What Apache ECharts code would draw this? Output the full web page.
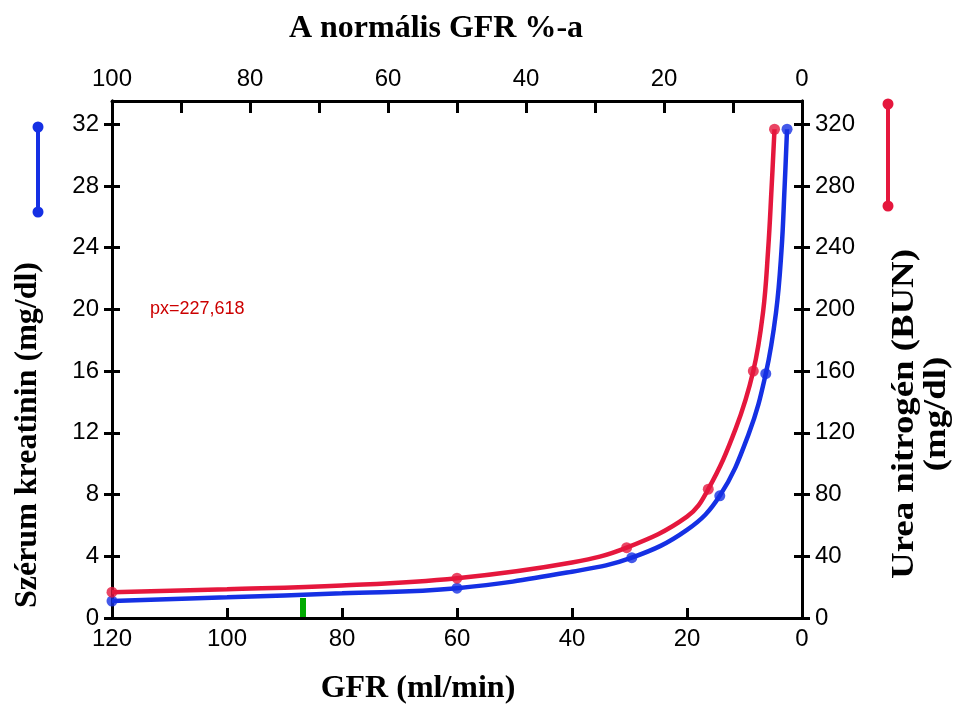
<!DOCTYPE html>
<html>
<head>
<meta charset="utf-8">
<script src="https://cdn.jsdelivr.net/npm/echarts@6/dist/echarts.min.js"></script>
<style>
  html, body { margin: 0; padding: 0; background: #fff; }
  #chart { width: 956px; height: 704px; }
</style>
</head>
<body>
<div id="chart"></div>
<script>
// GFR (ml/min) along the curves, with serum creatinine (mg/dl)
const creatGfr = [120, 100, 80, 60, 40, 29.6, 20, 14.3, 9.3, 6.3, 4.52, 3.57, 3.04, 2.6];
const creatVal = [1.1, 1.34, 1.6, 1.93, 3.0, 3.91, 5.71, 7.92, 11.9, 15.83, 19.8, 23.8, 27.8, 31.67];
// GFR (ml/min) along the curves, with blood urea nitrogen (mg/dl)
const bunGfr = [120, 100, 80, 60, 40, 30.5, 20, 16.3, 11.5, 8.47, 6.78, 5.9, 5.3, 4.78];
const bunVal = [16.7, 18.6, 21, 25.8, 36.0, 45.6, 65.7, 83.5, 123, 160, 198, 238, 278, 316.7];
// Measured points drawn as dots (indices into the arrays above)
const creatDots = [0, 3, 5, 7, 9, 13];
const bunDots = [0, 3, 5, 7, 9, 13];

// Tick positions
const gfrTicks = [0, 20, 40, 60, 80, 100, 120];
const pctTicks = [0, 10, 20, 30, 40, 50, 60, 70, 80, 90, 100];
const pctLabels = [0, 20, 40, 60, 80, 100];
const creatTicks = [0, 4, 8, 12, 16, 20, 24, 28, 32];
const bunTicks = [0, 40, 80, 120, 160, 200, 240, 280, 320];

const BLUE = '#1530e4';
const RED = '#e5173d';
const INK = '#000';
const SANS = 'Liberation Sans, Arial, sans-serif';
const SERIF = 'Liberation Serif, Times New Roman, serif';

const pair = (xs, ys) => xs.map((x, i) => [x, ys[i]]);
const pick = (xs, ys, idx) => idx.map(i => [xs[i], ys[i]]);

const axisLine = (show) => ({ show: show, onZero: false, lineStyle: { color: INK, width: 3 } });
const tickStyle = () => ({ color: INK, width: 3 });
const labelStyle = (extra) => Object.assign({ color: INK, fontFamily: SANS, fontSize: 24 }, extra);

function yAxis(pos, max, ticks, inside, labels) {
  return {
    type: 'value', position: pos, min: 0, max: max, interval: ticks[1] - ticks[0],
    axisLine: axisLine(true),
    axisTick: { show: true, inside: inside, length: 8, lineStyle: tickStyle(), customValues: ticks },
    axisLabel: labels ? labelStyle({ margin: 13, customValues: ticks }) : { show: false },
    splitLine: { show: false }
  };
}

const chart = echarts.init(document.getElementById('chart'), null, { renderer: 'canvas' });

chart.setOption({
  animation: false,
  backgroundColor: '#fff',
  grid: { left: 112, right: 154, top: 101, bottom: 86, containLabel: false, outerBoundsMode: 'none' },
  xAxis: [
    {
      type: 'value', position: 'bottom', min: 0, max: 120, interval: 20, inverse: true,
      axisLine: axisLine(true),
      axisTick: { show: true, inside: true, length: 10, lineStyle: tickStyle(), customValues: gfrTicks },
      axisLabel: labelStyle({ margin: 9, customValues: gfrTicks }),
      splitLine: { show: false }
    },
    {
      type: 'value', position: 'top', min: 0, max: 100, interval: 10, inverse: true,
      axisLine: axisLine(true),
      axisTick: { show: true, inside: true, length: 12, lineStyle: tickStyle(), customValues: pctTicks },
      axisLabel: labelStyle({ margin: 10, customValues: pctLabels }),
      splitLine: { show: false }
    }
  ],
  yAxis: [
    yAxis('left', 33.5, creatTicks, false, true),
    yAxis('left', 33.5, creatTicks, true, false),
    yAxis('right', 335, bunTicks, false, true),
    yAxis('right', 335, bunTicks, true, false)
  ],
  series: [
    {
      type: 'line', name: 'Szérum kreatinin', xAxisIndex: 0, yAxisIndex: 0,
      data: pair(creatGfr, creatVal), smooth: 0.4, showSymbol: false,
      lineStyle: { color: BLUE, width: 4.5 }, z: 3
    },
    {
      type: 'scatter', xAxisIndex: 0, yAxisIndex: 0,
      data: pick(creatGfr, creatVal, creatDots), symbolSize: 11,
      itemStyle: { color: BLUE }, z: 4
    },
    {
      type: 'line', name: 'Urea nitrogén', xAxisIndex: 0, yAxisIndex: 2,
      data: pair(bunGfr, bunVal), smooth: 0.4, showSymbol: false,
      lineStyle: { color: RED, width: 4.5 }, z: 3
    },
    {
      type: 'scatter', xAxisIndex: 0, yAxisIndex: 2,
      data: pick(bunGfr, bunVal, bunDots), symbolSize: 11,
      itemStyle: { color: RED }, z: 4
    }
  ],
  graphic: [
    { type: 'text', x: 436, y: 29, style: { text: 'A normális GFR %-a', font: 'bold 32px ' + SERIF, fill: INK, align: 'center', verticalAlign: 'middle' } },
    { type: 'text', x: 418, y: 689, style: { text: 'GFR (ml/min)', font: 'bold 32px ' + SERIF, fill: INK, align: 'center', verticalAlign: 'middle' } },
    { type: 'text', x: 28, y: 435, rotation: Math.PI / 2, style: { text: 'Szérum kreatinin (mg/dl)', font: 'bold 32px ' + SERIF, fill: INK, align: 'center', verticalAlign: 'middle' } },
    { type: 'text', x: 921, y: 414, rotation: Math.PI / 2, scaleX: 1.15, style: { text: 'Urea nitrogén (BUN)\n(mg/dl)', font: 'bold 32px ' + SERIF, lineHeight: 32, fill: INK, align: 'center', verticalAlign: 'middle' } },
    { type: 'line', shape: { x1: 38, y1: 127, x2: 38, y2: 212 }, style: { stroke: BLUE, lineWidth: 4 } },
    { type: 'circle', shape: { cx: 38, cy: 127, r: 5.5 }, style: { fill: BLUE } },
    { type: 'circle', shape: { cx: 38, cy: 212, r: 5.5 }, style: { fill: BLUE } },
    { type: 'line', shape: { x1: 888, y1: 104, x2: 888, y2: 206 }, style: { stroke: RED, lineWidth: 4 } },
    { type: 'circle', shape: { cx: 888, cy: 104, r: 5.5 }, style: { fill: RED } },
    { type: 'circle', shape: { cx: 888, cy: 206, r: 5.5 }, style: { fill: RED } }
  ]
});
const p = chart.convertToPixel({ xAxisIndex: 0, yAxisIndex: 0 }, [100, 0]);
chart.setOption({ graphic: [{ id: 'dbg', type: 'text', x: 150, y: 300, style: { text: 'px=' + p.join(','), font: '18px sans-serif', fill: '#c00' } },
  { id: 'dbg2', type: 'rect', shape: { x: 300, y: 598, width: 6, height: 20 }, style: { fill: '#0a0' } }] });
</script>
</body>
</html>
